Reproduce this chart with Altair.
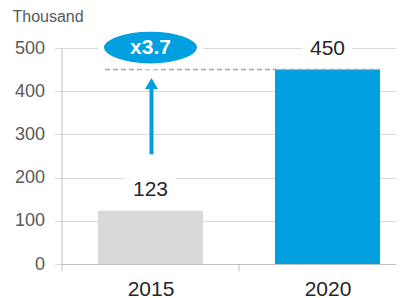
import altair as alt
import pandas as pd

# ---- data ----
years = ["2015", "2020"]
values = [123, 450]
bar_colors = ["#d9d9d9", "#009fdf"]
growth_label = "x3.7"
arrow_start = 254     # value where the arrow shaft starts
arrow_shaft_end = 410 # value where the shaft meets the head
arrow_head_mid = 418  # value at middle of arrow head
bubble_level = 501    # value at the centre of the growth bubble

FONT = "Liberation Sans"
BLUE = "#009fdf"

df = pd.DataFrame({"year": years, "value": values})
ann = pd.DataFrame({
    "year": [years[0]], "year2": [years[1]],
    "ref": [values[1]],
    "a0": [arrow_start], "a1": [arrow_shaft_end], "ah": [arrow_head_mid],
    "b": [bubble_level], "lab": [growth_label],
})

xscale = alt.Scale(domain=years, paddingInner=0.4068, paddingOuter=0.1483, align=0.695)
yscale = alt.Scale(domain=[0, 500], nice=False)

x_axis = alt.Axis(
    title=None, labelFont=FONT, labelFontSize=21, labelColor="#262626",
    labelAngle=0, labelPadding=7, tickSize=7, tickColor="#bfbfbf",
    domainColor="#bfbfbf", tickOffset=-88.5, labelOffset=88.5, grid=False,
)
y_axis = alt.Axis(
    title="Thousand", values=[0, 100, 200, 300, 400, 500],
    labelFont=FONT, labelFontSize=18, labelColor="#595959", labelPadding=10,
    tickSize=7, tickColor="#d9d9d9", domainColor="#bfbfbf",
    grid=True, gridColor="#d9d9d9",
    titleFont=FONT, titleFontSize=16, titleFontWeight="normal", titleColor="#595959",
    titleAngle=0, titleAlign="left", titleBaseline="alphabetic",
    titleX=-49.5, titleY=-26.5,
)

base = alt.Chart(df)

bars = base.mark_bar().encode(
    x=alt.X("year:N", scale=xscale, axis=x_axis),
    y=alt.Y("value:Q", scale=yscale, axis=y_axis),
    color=alt.Color("year:N", scale=alt.Scale(domain=years, range=bar_colors), legend=None),
)

RECT = "M-1,-0.55L1,-0.55L1,0.55L-1,0.55Z"
label_bg = base.mark_point(
    shape=RECT, size=2500, filled=True, fill="white", strokeWidth=0, opacity=1, yOffset=-21
).encode(x="year:N", y="value:Q")

labels = base.mark_text(
    font=FONT, fontSize=21, color="#262626", baseline="middle", dy=-21
).encode(x="year:N", y="value:Q", text="value:Q")

annb = alt.Chart(ann)

dashed = annb.mark_rule(
    color="#a6a6a6", strokeDash=[5, 3], strokeWidth=1.5, xOffset=7
).encode(
    x=alt.X("year:N", bandPosition=0),
    x2=alt.X2("year2", bandPosition=1),
    y="ref:Q",
)

shaft = annb.mark_rule(color=BLUE, strokeWidth=4, xOffset=1).encode(
    x="year:N", y="a0:Q", y2="a1:Q"
)

TRI = "M0,-0.85L1,0.85L-1,0.85Z"
head = annb.mark_point(
    shape=TRI, size=169, filled=True, fill=BLUE, strokeWidth=0, opacity=1, xOffset=1
).encode(x="year:N", y="ah:Q")

k = 0.38
c = 0.5523
ELL = (
    f"M-1,0C-1,{-c*k:.4f} {-c:.4f},{-k:.4f} 0,{-k:.4f}"
    f"C{c:.4f},{-k:.4f} 1,{-c*k:.4f} 1,0"
    f"C1,{c*k:.4f} {c:.4f},{k:.4f} 0,{k:.4f}"
    f"C{-c:.4f},{k:.4f} -1,{c*k:.4f} -1,0Z"
)
bubble = annb.mark_point(
    shape=ELL, size=99 * 99, filled=True, fill=BLUE, stroke="white",
    strokeWidth=6, opacity=1
).encode(x="year:N", y="b:Q")

bubble_text = annb.mark_text(
    font=FONT, fontSize=21, fontWeight="bold", color="white", baseline="middle"
).encode(x="year:N", y="b:Q", text="lab:N")

chart = alt.layer(
    bars, label_bg, labels, dashed, shaft, head, bubble, bubble_text
).properties(
    width=334.5, height=216,
    autosize=alt.AutoSizeParams(type="none"),
    padding={"left": 53.5, "top": 40, "right": 0, "bottom": 34},
).configure_view(stroke=None)

chart.save("out.html", embed_options={"renderer": "svg", "actions": False})
